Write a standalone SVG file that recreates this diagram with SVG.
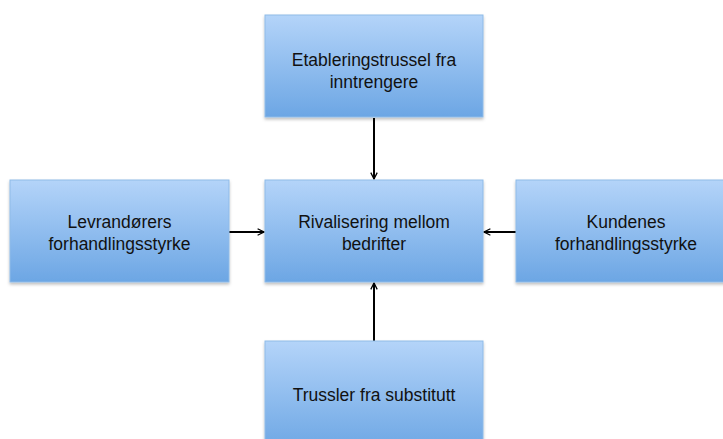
<svg xmlns="http://www.w3.org/2000/svg" width="723" height="439" viewBox="0 0 723 439">
<defs>
<linearGradient id="g" x1="0" y1="0" x2="0" y2="1">
<stop offset="0" stop-color="#b4d4f9"/>
<stop offset="1" stop-color="#6ca6e4"/>
</linearGradient>
<filter id="sh" x="-5%" y="-5%" width="110%" height="115%">
<feDropShadow dx="0" dy="2" stdDeviation="1.5" flood-color="#000" flood-opacity="0.25"/>
</filter>
<marker id="ah" viewBox="0 0 10 10" refX="9" refY="5" markerWidth="8" markerHeight="8" markerUnits="userSpaceOnUse" orient="auto">
<path d="M1,1 L9,5 L1,9" fill="none" stroke="#000" stroke-width="1.6"/>
</marker>
<style>
.box{fill:url(#g);stroke:#8fbbe8;stroke-width:1;filter:url(#sh)}
.t{font-family:"Liberation Sans",Arial,sans-serif;font-size:17.5px;fill:#111;text-anchor:middle}
.c{stroke:#000;stroke-width:2;fill:none;marker-end:url(#ah)}
</style>
</defs>
<rect width="723" height="439" fill="#fff"/>
<g id="connectors">
<line class="c" x1="374" y1="118" x2="374" y2="179"/>
<line class="c" x1="229" y1="232" x2="264" y2="232"/>
<line class="c" x1="516" y1="232" x2="484" y2="232"/>
<line class="c" x1="374" y1="341" x2="374" y2="283"/>
</g>
<g id="top">
<rect class="box" x="265" y="15" width="218" height="102"/>
<text class="t" x="374" y="66">Etableringstrussel fra</text>
<text class="t" x="374" y="88">inntrengere</text>
</g>
<g id="left">
<rect class="box" x="10" y="180" width="219" height="102"/>
<text class="t" x="119.5" y="228">Levrandørers</text>
<text class="t" x="119.5" y="250">forhandlingsstyrke</text>
</g>
<g id="center">
<rect class="box" x="265" y="180" width="218" height="102"/>
<text class="t" x="374" y="228">Rivalisering mellom</text>
<text class="t" x="374" y="250">bedrifter</text>
</g>
<g id="right">
<rect class="box" x="516" y="180" width="220" height="102"/>
<text class="t" x="626" y="228">Kundenes</text>
<text class="t" x="626" y="250">forhandlingsstyrke</text>
</g>
<g id="bottom">
<rect class="box" x="265" y="341" width="218" height="110"/>
<text class="t" x="374" y="401">Trussler fra substitutt</text>
</g>
</svg>
